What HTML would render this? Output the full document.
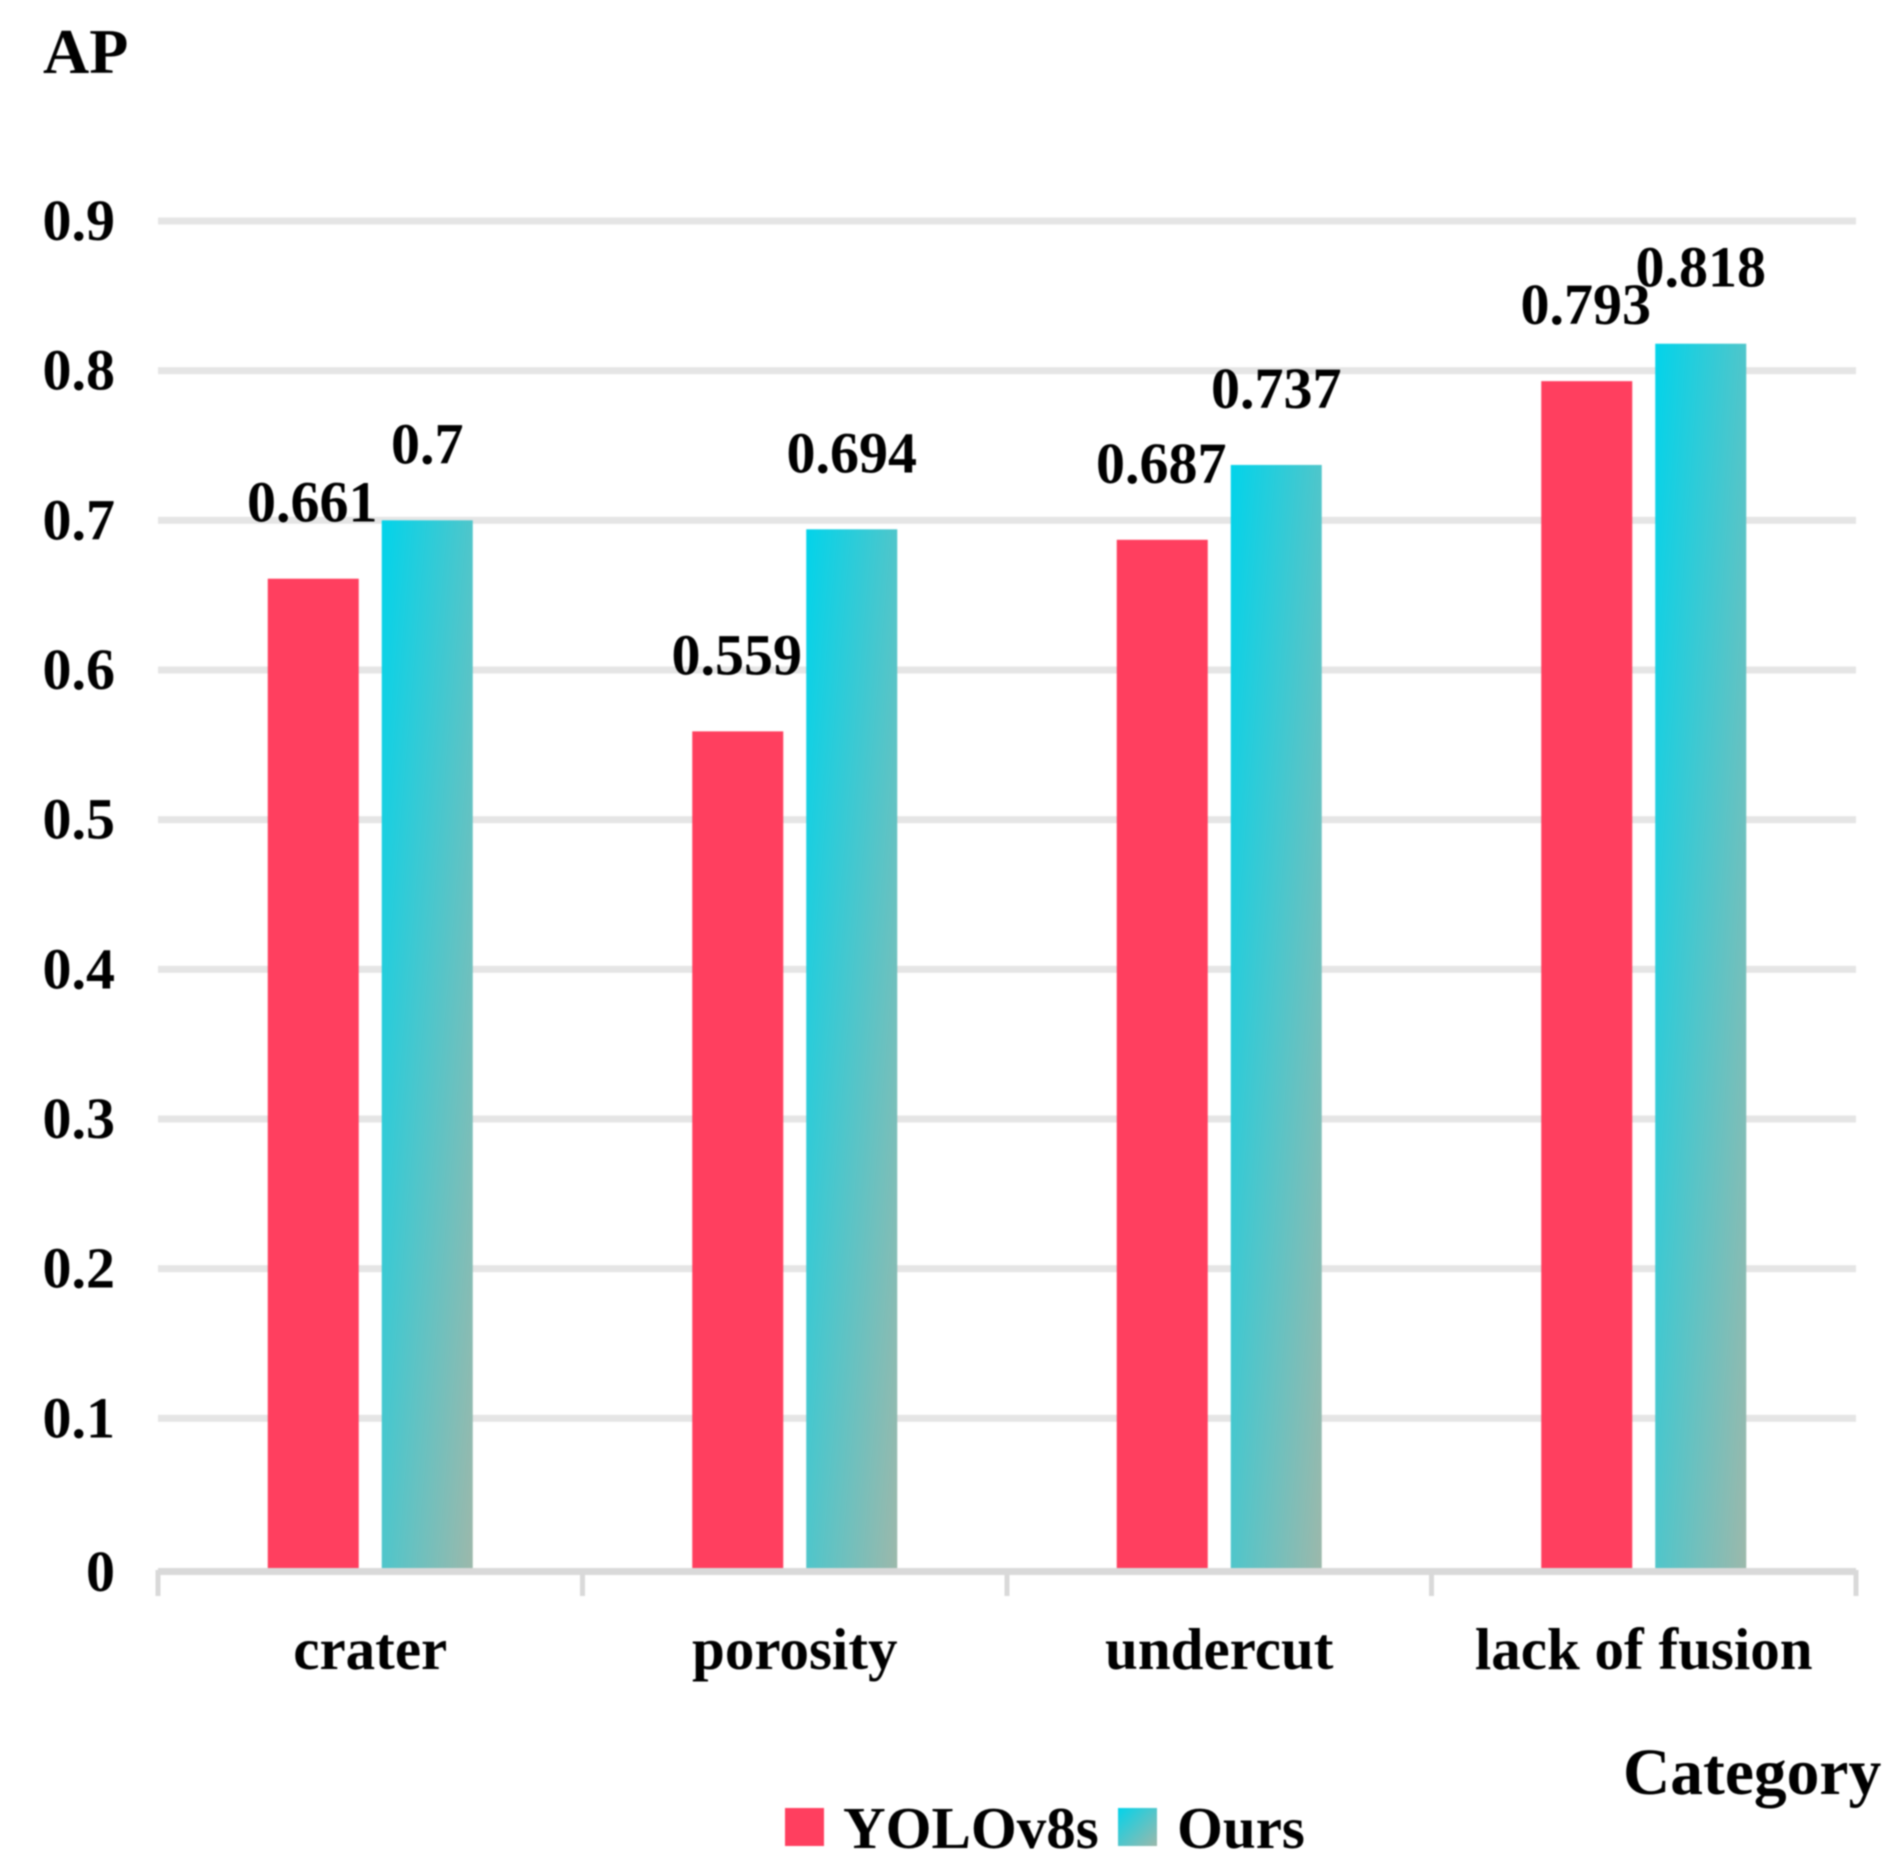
<!DOCTYPE html>
<html lang="en">
<head>
<meta charset="utf-8">
<title>AP by Category</title>
<style>
  html, body { margin: 0; padding: 0; background: #fff; }
  body { width: 1902px; height: 1866px; overflow: hidden; }
  svg { display: block; filter: blur(0.7px); }
  text { font-family: "Liberation Serif", serif; font-weight: bold; fill: #000; }
</style>
</head>
<body>
<svg id="chart" xmlns="http://www.w3.org/2000/svg" width="1902" height="1866" viewBox="0 0 1902 1866">
  <defs>
    <linearGradient id="ours-gradient" x1="0" y1="0" x2="1" y2="1">
      <stop offset="0" stop-color="#02d3ea"/>
      <stop offset="1" stop-color="#9cb8ab"/>
    </linearGradient>
  </defs>
  <rect x="0" y="0" width="1902" height="1866" fill="#ffffff"/>
  <text x="43" y="73" font-size="64">AP</text>
  <text x="1623" y="1794" font-size="65.5">Category</text>
  <g>
    <rect x="785" y="1808" width="39" height="38" fill="#ff3f5f"/>
    <text x="843" y="1848" font-size="59">YOLOv8s</text>
    <rect x="1118" y="1808" width="39" height="38" fill="url(#ours-gradient)"/>
    <text x="1177" y="1848" font-size="59">Ours</text>
  </g>
  <g id="grid"></g>
  <g id="y-ticks"></g>
  <g id="x-axis"></g>
  <g id="bars"></g>
  <g id="values"></g>
</svg>
<script>
const categories = ['crater', 'porosity', 'undercut', 'lack of fusion'];
const yolov8sValues = [0.661, 0.559, 0.687, 0.793];
const oursValues = [0.7, 0.694, 0.737, 0.818];
const yTickValues = [0, 0.1, 0.2, 0.3, 0.4, 0.5, 0.6, 0.7, 0.8, 0.9];
const yTickLabels = ['0', '0.1', '0.2', '0.3', '0.4', '0.5', '0.6', '0.7', '0.8', '0.9'];

const NS = 'http://www.w3.org/2000/svg';
const plotLeft = 158, plotRight = 1856, zeroY = 1568, axisY = 1572, topY = 221, topValue = 0.9;
const barWidth = 91, barGap = 23;
const bandWidth = (plotRight - plotLeft) / categories.length;

function yScale(v) { return zeroY - (v / topValue) * (zeroY - topY); }
function bandCenter(i) { return plotLeft + bandWidth * (i + 0.5); }

function addRect(parent, x, y, w, h, fill) {
  const r = document.createElementNS(NS, 'rect');
  r.setAttribute('x', x);
  r.setAttribute('y', y);
  r.setAttribute('width', w);
  r.setAttribute('height', h);
  r.setAttribute('fill', fill);
  parent.appendChild(r);
  return r;
}
function addText(parent, x, y, str, size, anchor) {
  const t = document.createElementNS(NS, 'text');
  t.setAttribute('x', x);
  t.setAttribute('y', y);
  t.setAttribute('font-size', size);
  t.setAttribute('text-anchor', anchor);
  t.textContent = str;
  parent.appendChild(t);
  return t;
}

const gridG = document.getElementById('grid');
const yG = document.getElementById('y-ticks');
const xG = document.getElementById('x-axis');
const barsG = document.getElementById('bars');
const valuesG = document.getElementById('values');

yTickValues.forEach(function (v, i) {
  const y = v > 0 ? yScale(v) : axisY;
  if (v > 0) {
    const line = addRect(gridG, plotLeft, y - 3.5, plotRight - plotLeft, 7, '#e5e5e5');
    
    
  }
  const label = addText(yG, 115, y + 19, yTickLabels[i], 58, 'end');
  
  
});

const axisLine = addRect(xG, plotLeft, axisY - 4, plotRight - plotLeft, 7, '#d9d9d9');



for (let i = 0; i <= categories.length; i++) {
  const tick = addRect(xG, plotLeft + bandWidth * i - 2.5, axisY - 2, 5, 26, '#d9d9d9');
  
  
}

categories.forEach(function (c, i) {
  const cx = bandCenter(i);
  const slug = c.replace(/ /g, '-');

  const catLabel = addText(xG, cx, 1669, c, 59, 'middle');
  
  

  const yoloX = cx - barGap / 2 - barWidth;
  const yoloTop = yScale(yolov8sValues[i]);
  const yoloBar = addRect(barsG, yoloX, yoloTop, barWidth, zeroY - yoloTop, '#ff3f5f');
  
  

  const oursX = cx + barGap / 2;
  const oursTop = yScale(oursValues[i]);
  const oursBar = addRect(barsG, oursX, oursTop, barWidth, zeroY - oursTop, 'url(#ours-gradient)');
  
  

  const yoloLabel = addText(valuesG, yoloX + barWidth / 2 - 1, yoloTop - 57, String(yolov8sValues[i]), 58, 'middle');
  
  

  const oursLabel = addText(valuesG, oursX + barWidth / 2, oursTop - 57, String(oursValues[i]), 58, 'middle');
  
  
});
</script>
</body>
</html>
